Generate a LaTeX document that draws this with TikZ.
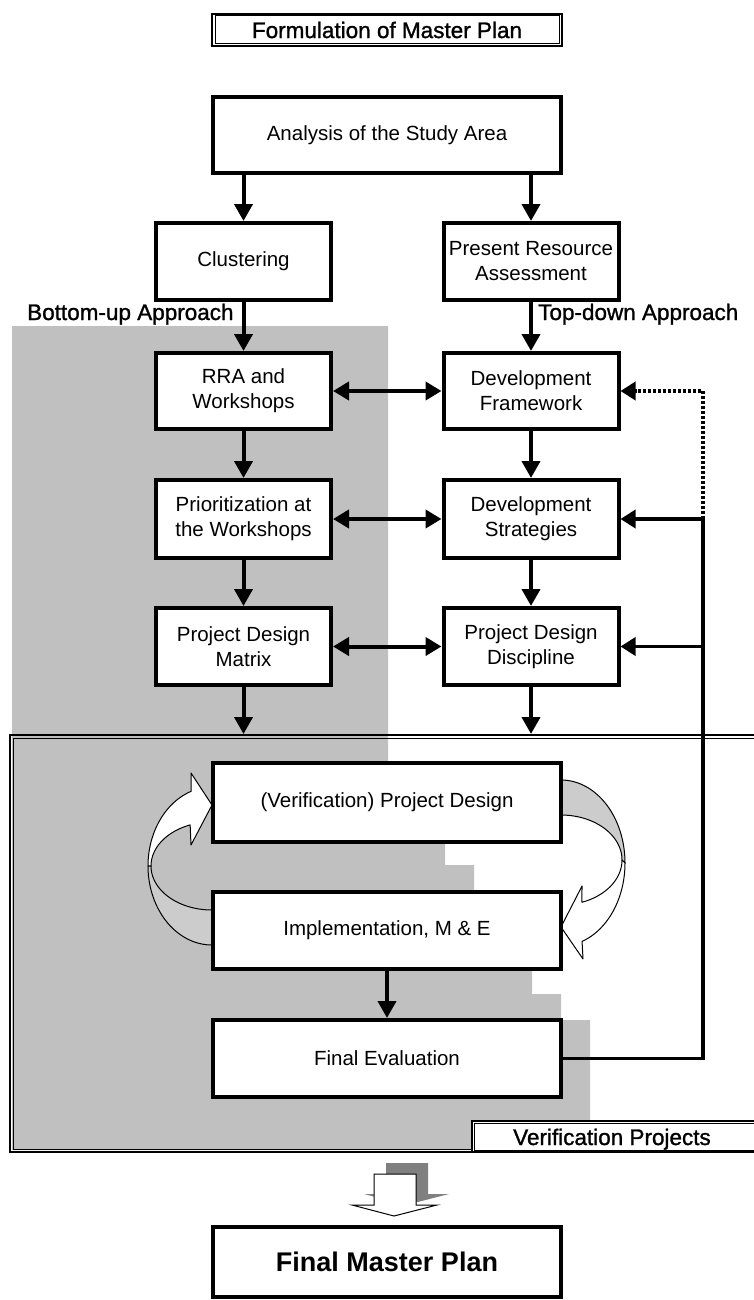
\documentclass[tikz,border=0pt]{standalone}
\usepackage{fontspec}
\setmainfont{Liberation Sans}
\newfontfamily\labelfont[FakeBold=1.2]{Liberation Sans}
\usetikzlibrary{arrows.meta}

\definecolor{bggray}{HTML}{C0C0C0}
\definecolor{ribbon}{HTML}{CCCCCC}
\definecolor{dropgray}{HTML}{808080}

\begin{document}
\begin{tikzpicture}[x=1pt,y=-1pt,
  box/.style={draw, line width=4pt, fill=white, minimum width=175pt,
    minimum height=77pt, align=center, inner sep=0pt,
    font=\fontsize{20.5}{25}\selectfont},
  wide/.style={box, minimum width=348pt},
  tip/.style={-{Triangle[length=17pt,width=18pt]}},
  arr/.style={line width=4pt, tip},
  dbl/.style={line width=4pt, {Triangle[length=16pt,width=18pt]}-{Triangle[length=16pt,width=18pt]}},
  fb/.style={line width=3.5pt},
  fbarr/.style={line width=3.5pt, -{Triangle[length=15pt,width=18pt]}},
  dots/.style={line width=3.5pt, dash pattern=on 3pt off 2pt},
  frame/.style={draw, line width=2pt, inner sep=0pt},
  lbl/.style={font=\labelfont\fontsize{22.5}{27}\selectfont, inner sep=0pt, anchor=base west},
  ribbonline/.style={line width=1pt, line join=round},
]
\useasboundingbox (0,0) rectangle (753,1300);
\fill[white] (0,0) rectangle (753,1300);

% shaded bottom-up area
\fill[bggray] (12,326) -- (388,326) -- (388,843) -- (445,843) -- (445,865)
  -- (474,865) -- (474,968) -- (532,968) -- (532,994) -- (561,994)
  -- (561,1020) -- (590,1020) -- (590,1150) -- (12,1150) -- cycle;

% title
\node[frame, minimum width=350pt, minimum height=32pt,
  font=\labelfont\fontsize{22.5}{27}\selectfont] (ttl) at (387,30) {Formulation of Master Plan};
\draw[line width=1pt] ([shift={(4,3)}]ttl.north west) rectangle ([shift={(-4,-3)}]ttl.south east);

% verification projects frame
\node[frame, minimum width=770pt, minimum height=417pt] (ver) at (395,943.5) {};
\draw[line width=1pt] ([shift={(4,4)}]ver.north west) rectangle ([shift={(-4,-4)}]ver.south east);
\node[frame, fill=white, minimum width=308pt, minimum height=31pt] (vpbox) at (626,1136.5) {};
\draw[line width=1pt] ([shift={(3,3)}]vpbox.north west) rectangle ([shift={(-3,-3)}]vpbox.south east);
\node[lbl] (vptxt) at (513,1145) {Verification Projects};

% approach labels
\node[lbl] (bup) at (27,320) {Bottom-up Approach};
\node[lbl] (tdn) at (538,320) {Top-down Approach};

% boxes
\node[wide, minimum height=76pt] (ana) at (387,135) {Analysis of the Study Area};
\node[box] (clu) at (243.5,261.5) {Clustering};
\node[box] (pra) at (531,261.5) {Present Resource\\Assessment};
\node[box, minimum height=76pt] (rra) at (243.5,391) {RRA and\\Workshops};
\node[box, minimum height=76pt] (dfw) at (531,391) {Development\\Framework};
\node[box, minimum height=78pt] (pri) at (243.5,519) {Prioritization at\\the Workshops};
\node[box, minimum height=78pt] (dst) at (531,519) {Development\\Strategies};
\node[box] (pdm) at (243.5,646.5) {Project Design\\Matrix};
\node[box] (pdd) at (531,646.5) {Project Design\\Discipline};

% curved cycle arrows
\filldraw[fill=white, ribbonline] (191,773) -- (212,805) -- (191,845)
  -- plot[domain=249:180, samples=40, variable=\t] ({212+61*cos(\t)},{866+44*sin(\t)})
  -- plot[domain=180:251, samples=40, variable=\t] ({212+64*cos(\t)},{866+79*sin(\t)})
  -- cycle;
\filldraw[fill=ribbon, ribbonline]
  plot[domain=180:90, samples=40, variable=\t] ({212+64*cos(\t)},{866+79*sin(\t)})
  -- plot[domain=90:180, samples=40, variable=\t] ({212+61*cos(\t)},{866+44*sin(\t)})
  -- cycle;
\filldraw[fill=ribbon, ribbonline]
  plot[domain=270:360, samples=40, variable=\t] ({561+64*cos(\t)},{863+83*sin(\t)})
  -- plot[domain=360:270, samples=40, variable=\t] ({561+61*cos(\t)},{860+45*sin(\t)})
  -- cycle;
\filldraw[fill=white, ribbonline]
  plot[domain=0:70.8, samples=40, variable=\t] ({561+64*cos(\t)},{863+83*sin(\t)})
  -- (583,959) -- (561,927) -- (582,886)
  -- plot[domain=69.9:0, samples=40, variable=\t] ({561+61*cos(\t)},{860+45*sin(\t)})
  -- cycle;

\node[wide, minimum height=79pt] (vpd) at (387,802.5) {(Verification) Project Design};
\node[wide] (imp) at (387,930) {Implementation, M \& E};
\node[wide] (fev) at (387,1058.5) {Final Evaluation};

% vertical flow
\draw[arr] (ana.south -| clu.north) -- (clu.north);
\draw[arr] (ana.south -| pra.north) -- (pra.north);
\draw[arr] (clu.south) -- (rra.north);
\draw[arr] (pra.south) -- (dfw.north);
\draw[arr] (rra.south) -- (pri.north);
\draw[arr] (dfw.south) -- (dst.north);
\draw[arr] (pri.south) -- (pdm.north);
\draw[arr] (dst.south) -- (pdd.north);
\draw[arr] (pdm.south) -- (pdm.south |- ver.north);
\draw[arr] (pdd.south) -- (pdd.south |- ver.north);
\draw[arr] (imp.south) -- (fev.north);

% horizontal links between the two approaches
\draw[dbl] (rra.east) -- (dfw.west);
\draw[dbl] (pri.east) -- (dst.west);
\draw[dbl] (pdm.east) -- (pdd.west);

% feedback from the final evaluation
\coordinate (rail) at (703,0);
\draw[fb] (fev.east) -- (fev.east -| rail) -- (dst.east -| rail);
\draw[fbarr] (dst.east -| rail) -- (dst.east);
\draw[fbarr] (pdd.east -| rail) -- (pdd.east);
\draw[dots] (dst.east -| rail) -- (dfw.east -| rail) -- ([xshift=15pt]dfw.east);
\draw[fbarr] ([xshift=16pt]dfw.east) -- (dfw.east);

% block arrow to the final plan
\fill[dropgray] (386,1163) -- (428,1163) -- (428,1194) -- (449,1194) -- (406,1205)
  -- (364,1194) -- (386,1194) -- cycle;
\filldraw[fill=white, line width=1pt] (374,1174) -- (416,1174) -- (416,1205) -- (437,1205)
  -- (394,1216) -- (352,1205) -- (374,1205) -- cycle;

\node[wide, minimum height=70pt, font=\bfseries\fontsize{27}{32}\selectfont] (fmp) at (387,1262) {Final Master Plan};
\end{tikzpicture}
\end{document}
